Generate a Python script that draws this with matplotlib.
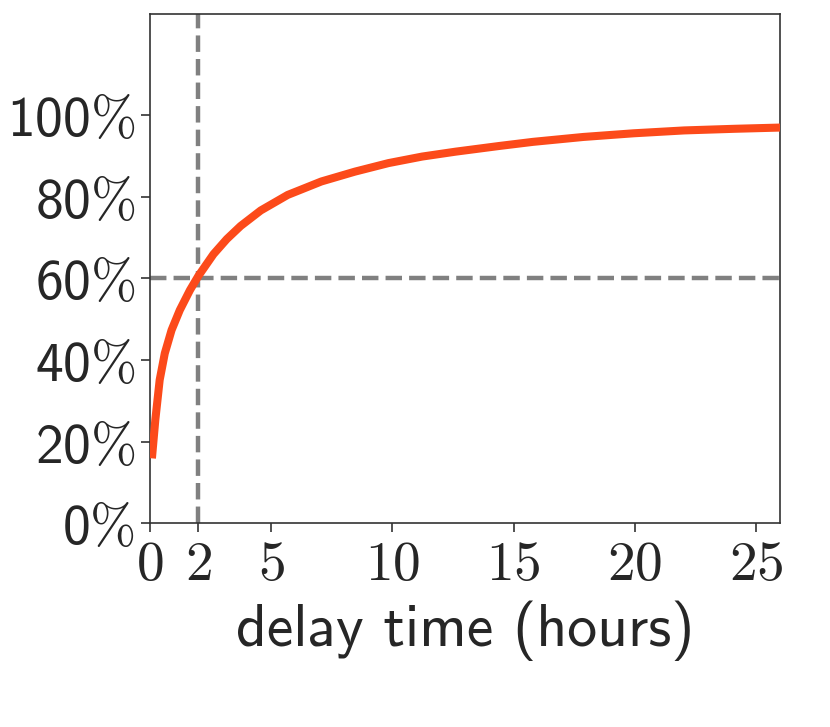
import matplotlib
matplotlib.use('Agg')
import matplotlib.pyplot as plt

# CDF of delay time
delay_hours = [0.08, 0.22, 0.40, 0.61, 0.89, 1.23, 1.65, 2.0, 2.62, 3.17,
               3.74, 4.57, 5.68, 7.07, 8.45, 9.84, 11.23, 12.61, 14.42,
               15.8, 17.88, 19.96, 22.04, 24.12, 26.0]
cdf_percent = [15.9, 25.3, 35.1, 41.6, 47.3, 52.2, 57.1, 60.6, 65.9, 69.6,
               72.8, 76.6, 80.4, 83.7, 86.1, 88.2, 89.8, 91.0, 92.4,
               93.4, 94.6, 95.5, 96.2, 96.6, 96.9]

x_ticks = [0, 2, 5, 10, 15, 20, 25]
y_ticks = [0, 20, 40, 60, 80, 100]
cut_x = 2
cut_y = 60

plt.rcParams['mathtext.fontset'] = 'custom'
plt.rcParams['mathtext.rm'] = 'cmr10'
plt.rcParams['mathtext.sf'] = 'cmss10'
plt.rcParams['mathtext.it'] = 'cmmi10'
plt.rcParams['axes.unicode_minus'] = False
text_color = '#262626'
spine_color = '#333333'

fig = plt.figure(figsize=(8.3, 7.27), dpi=100)
ax = fig.add_axes([0.1807, 0.2802, 0.7593, 0.7005])

ax.plot(delay_hours, cdf_percent, color='#fc4a1a', linewidth=5.8,
        solid_capstyle='butt', solid_joinstyle='round', zorder=3)
ax.axvline(cut_x, color='#808080', linestyle='--', linewidth=3.2, zorder=2)
ax.axhline(cut_y, color='#808080', linestyle='--', linewidth=3.2, zorder=2)

ax.set_xlim(0, 26)
ax.set_ylim(0, 124.7)

ax.set_xticks(x_ticks)
ax.set_xticklabels([r'$\mathrm{' + str(t) + '}$' for t in x_ticks],
                   fontsize=40, color=text_color)
ax.set_yticks(y_ticks)
ax.set_yticklabels([r'$\mathsf{' + str(t) + r'}\mathrm{\%}$' for t in y_ticks],
                   fontsize=40, color=text_color)

ax.set_xlabel('delay time (hours)', fontsize=43, family='cmss10',
              color=text_color, labelpad=6)

for s in ax.spines.values():
    s.set_color(spine_color)
    s.set_linewidth(1.2)
ax.tick_params(direction='out', length=6.5, width=1.2, color=spine_color, pad=4)

fig.savefig('out.png', dpi=100)
